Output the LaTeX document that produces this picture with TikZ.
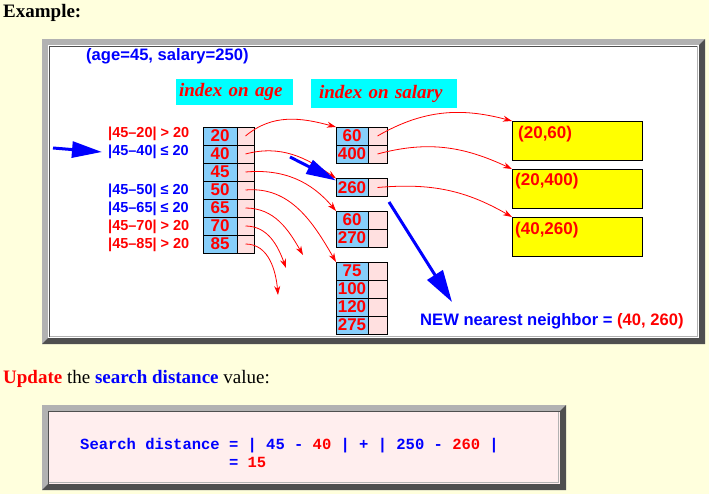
\documentclass[tikz,border=0pt]{standalone}
\usepackage{fontspec}
\setmainfont{Liberation Serif}
\setsansfont{Liberation Sans}
\setmonofont{Liberation Mono}
\usepackage{tikz}
\usetikzlibrary{arrows.meta}
\usetikzlibrary{positioning}
\definecolor{cream}{HTML}{FFFFDD}
\definecolor{framelight}{HTML}{B2B2B2}
\definecolor{framedark}{HTML}{4F4F4F}
\definecolor{keyblue}{HTML}{87CEFA}
\definecolor{ptrpink}{HTML}{FFE0E0}
\definecolor{boxpink}{HTML}{FFEEEE}
\definecolor{idxcyan}{HTML}{00FFFF}
\definecolor{recyellow}{HTML}{FFFF00}
\tikzset{
    keycell/.style={draw=black, fill=keyblue, line width=0.8pt, minimum height=18pt,
        inner sep=0pt, outer sep=0pt, text=red, font=\sffamily\bfseries\fontsize{17}{17}\selectfont},
    ptrcell/.style={draw=black, fill=ptrpink, line width=0.8pt, minimum height=18pt,
        inner sep=0pt, outer sep=0pt},
    idxbox/.style={fill=idxcyan, inner ysep=0pt, align=left, text=red,
        font=\rmfamily\bfseries\itshape\fontsize{19}{19}\selectfont},
    recbox/.style={draw=black, fill=recyellow, line width=0.8pt, minimum width=130pt,
        minimum height=39pt, inner sep=0pt, outer sep=0pt},
    rectext/.style={anchor=north west, inner sep=0pt, text=red,
        font=\sffamily\bfseries\fontsize{17}{17}\selectfont},
    distlabel/.style={anchor=west, inner sep=0pt, font=\sffamily\bfseries\fontsize{14.5}{14.5}\selectfont},
    sanstext/.style={anchor=base west, inner sep=0pt, font=\sffamily\bfseries\fontsize{16.6}{16.6}\selectfont},
    ptrarrow/.style={draw=red, line width=0.8pt, -{Stealth[length=9pt,width=6pt]}},
    bigarrow/.style={draw=blue, line width=3pt, -{Triangle[length=30pt,width=16pt]}},
}

\begin{document}
\begin{tikzpicture}[x=1pt, y=-1pt]
\fill[cream] (0,0) rectangle (709,494);
\useasboundingbox (0,0) rectangle (709,494);
\node[anchor=base west, inner sep=0pt, font=\rmfamily\bfseries\fontsize{19}{19}\selectfont] (example) at (3,18) {Example:};
%% upper frame
\fill[framelight] (42,39) rectangle (705,344);
\fill[framedark] (705,39) -- (705,344) -- (42,344) -- (48,338) -- (699,338) -- (699,45) -- cycle;
\fill[white] (48,45) rectangle (699,338);
\draw[framedark, line width=1pt] (49.5,337) -- (49.5,46.5) -- (698,46.5);
\draw[framelight, line width=1pt] (49.5,336.5) -- (697.5,336.5) -- (697.5,46.5);
\node[sanstext, text=blue] (query) at (86,61) {(age=45, salary=250)};
\node[idxbox, inner xsep=3pt, text width=111pt, minimum height=26pt] (idxage) at (234.5,92) {index on age};
\node[idxbox, inner xsep=8pt, text width=130pt, minimum height=29pt] (idxsal) at (384,93.5) {index on salary};
%% index on age
\foreach \v [count=\i] in {20,40,45,50,65,70,85} {
    \node[keycell, minimum width=34pt] (ak\i) at (220,{118+18*\i}) {\v};
    \node[ptrcell, minimum width=17pt, right=0pt of ak\i] (ap\i) {};
}
\foreach \k/\c/\s/\y in {20/red/>/134, 40/blue/≤/152, 50/blue/≤/191, 65/blue/≤/209, 70/red/>/227, 85/red/>/245}
    \node[distlabel, text=\c] (d\k) at (108,\y) {|45–\k|~\s~20};
%% index on salary
\foreach \v/\y [count=\i] in {60/136, 400/154, 260/187.5, 60/220, 270/238, 75/271, 100/289, 120/307, 275/325} {
    \node[keycell, minimum width=32pt] (sk\i) at (352,\y) {\v};
    \node[ptrcell, minimum width=19pt, right=0pt of sk\i] (sp\i) {};
}
%% records
\node[recbox] (rec1) at (577,140.5) {};
\node[recbox] (rec2) at (577,188.5) {};
\node[recbox] (rec3) at (577,236.5) {};
\node[rectext] (rt1) at ([shift={(6,5)}]rec1.north west) {(20,60)};
\node[rectext] (rt2) at ([shift={(3,4)}]rec2.north west) {(20,400)};
\node[rectext] (rt3) at ([shift={(3,5)}]rec3.north west) {(40,260)};
%% pointers
\coordinate (e65) at (303,255);
\coordinate (e70) at (286,268);
\coordinate (e85) at (278,295);
\draw[ptrarrow] (ap1.center) to[out=40,in=165] (sk1.north west);
\draw[ptrarrow] (ap2.center) to[out=15,in=145] (sk3.north west);
\draw[ptrarrow] (ap3.center) to[out=5,in=130] (sk4.north west);
\draw[ptrarrow] (ap4.center) to[out=5,in=120] (sk6.north west);
\draw[ptrarrow] (ap5.center) to[out=0,in=120] (e65);
\draw[ptrarrow] (ap6.center) to[out=0,in=110] (e70);
\draw[ptrarrow] (ap7.center) to[out=0,in=95] (e85);
\draw[ptrarrow] (sp1.center) to[out=30,in=165] (rec1.north west);
\draw[ptrarrow] (sp2.center) to[out=15,in=155] (rec2.north west);
\draw[ptrarrow] (sp3.center) to[out=5,in=150] (rec3.north west);
%% search
\coordinate (b0) at (53,148);
\coordinate (b1) at (290,157);
\coordinate (b2) at (389,202);
\coordinate (b3) at (452,302);
\draw[bigarrow] (b0) -- ([xshift=-6pt]d40.west);
\draw[bigarrow, -{Triangle[length=30pt,width=15pt]}] (b1) -- ([yshift=-2pt]sk3.north west);
\draw[bigarrow, -{Triangle[length=32pt,width=18pt]}] (b2) -- (b3);
\node[sanstext, text=blue] (newnn) at (420,325) {NEW nearest neighbor = \textcolor{red}{(40, 260)}};
%% update
\node[anchor=base west, inner sep=0pt, font=\rmfamily\fontsize{19}{19}\selectfont] (update) at (3,383)
    {\textcolor{red}{\bfseries Update} the \textcolor{blue}{\bfseries search distance} value:};
\fill[framelight] (42,405) rectangle (566,490);
\fill[framedark] (566,405) -- (566,490) -- (42,490) -- (48,484) -- (560,484) -- (560,411) -- cycle;
\fill[boxpink] (48,411) rectangle (560,484);
\draw[framedark, line width=1pt] (48.5,484) -- (48.5,411.5) -- (560,411.5);
\draw[framelight, line width=1pt] (48.5,482.5) -- (558.5,482.5) -- (558.5,411.5);
\node[anchor=base west, inner sep=0pt, text=blue, font=\ttfamily\bfseries\fontsize{15.5}{15.5}\selectfont] (dist) at (80,449)
    {Search distance = | 45 - \textcolor{red}{40} | + | 250 - \textcolor{red}{260} |};
\node[anchor=base west, inner sep=0pt, text=blue, font=\ttfamily\bfseries\fontsize{15.5}{15.5}\selectfont] (res) at ([yshift=-18pt]dist.base west)
    {\phantom{Search distance }= \textcolor{red}{15}};
\end{tikzpicture}
\end{document}
